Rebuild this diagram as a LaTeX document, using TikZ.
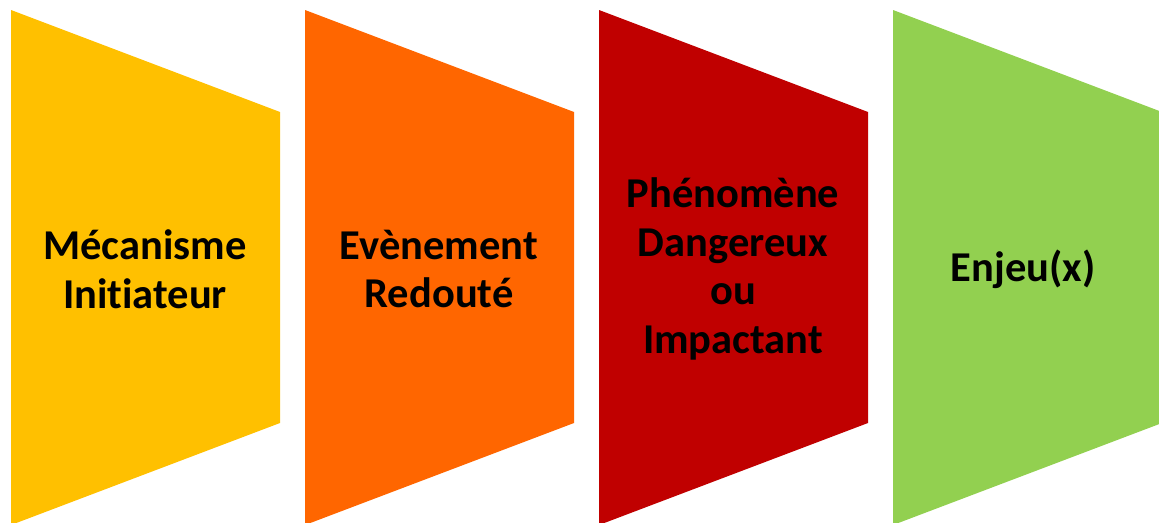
\documentclass[tikz,border=0pt]{standalone}
\usepackage{fontspec}
\setmainfont{Carlito}[Ligatures=CommonOff]
\usepackage{tikz}

\definecolor{jaune}{HTML}{FFC000}
\definecolor{orange}{HTML}{FF6600}
\definecolor{rouge}{HTML}{C00000}
\definecolor{vert}{HTML}{92D050}

\tikzset{
  etape/.style={align=center, font=\fontsize{42.5}{48.5}\selectfont\bfseries, text=black, inner sep=0pt}
}

\begin{document}
\begin{tikzpicture}[x=1pt,y=-1pt]
  \clip (0,0) rectangle (1159,522);
  \fill[white] (0,0) rectangle (1159,522);
  \fill[jaune]  (11,10)  -- (280,112) -- (280,423) -- (11,525)  -- cycle;
  \fill[orange] (305,10) -- (574,112) -- (574,423) -- (305,525) -- cycle;
  \fill[rouge]  (599,10) -- (868,112) -- (868,423) -- (599,525) -- cycle;
  \fill[vert]   (893,10) -- (1162,112) -- (1162,423) -- (893,525) -- cycle;
  \node[etape] (mi)  at (145,269)  {Mécanisme\\Initiateur};
  \node[etape] (er)  at (439,269)  {Evènement\\Redouté};
  \node[etape] (pd)  at (733,269)  {Phénomène\\Dangereux\\ou\\Impactant};
  \node[etape] (enj) at (1023,269) {Enjeu(x)};
\end{tikzpicture}
\end{document}
